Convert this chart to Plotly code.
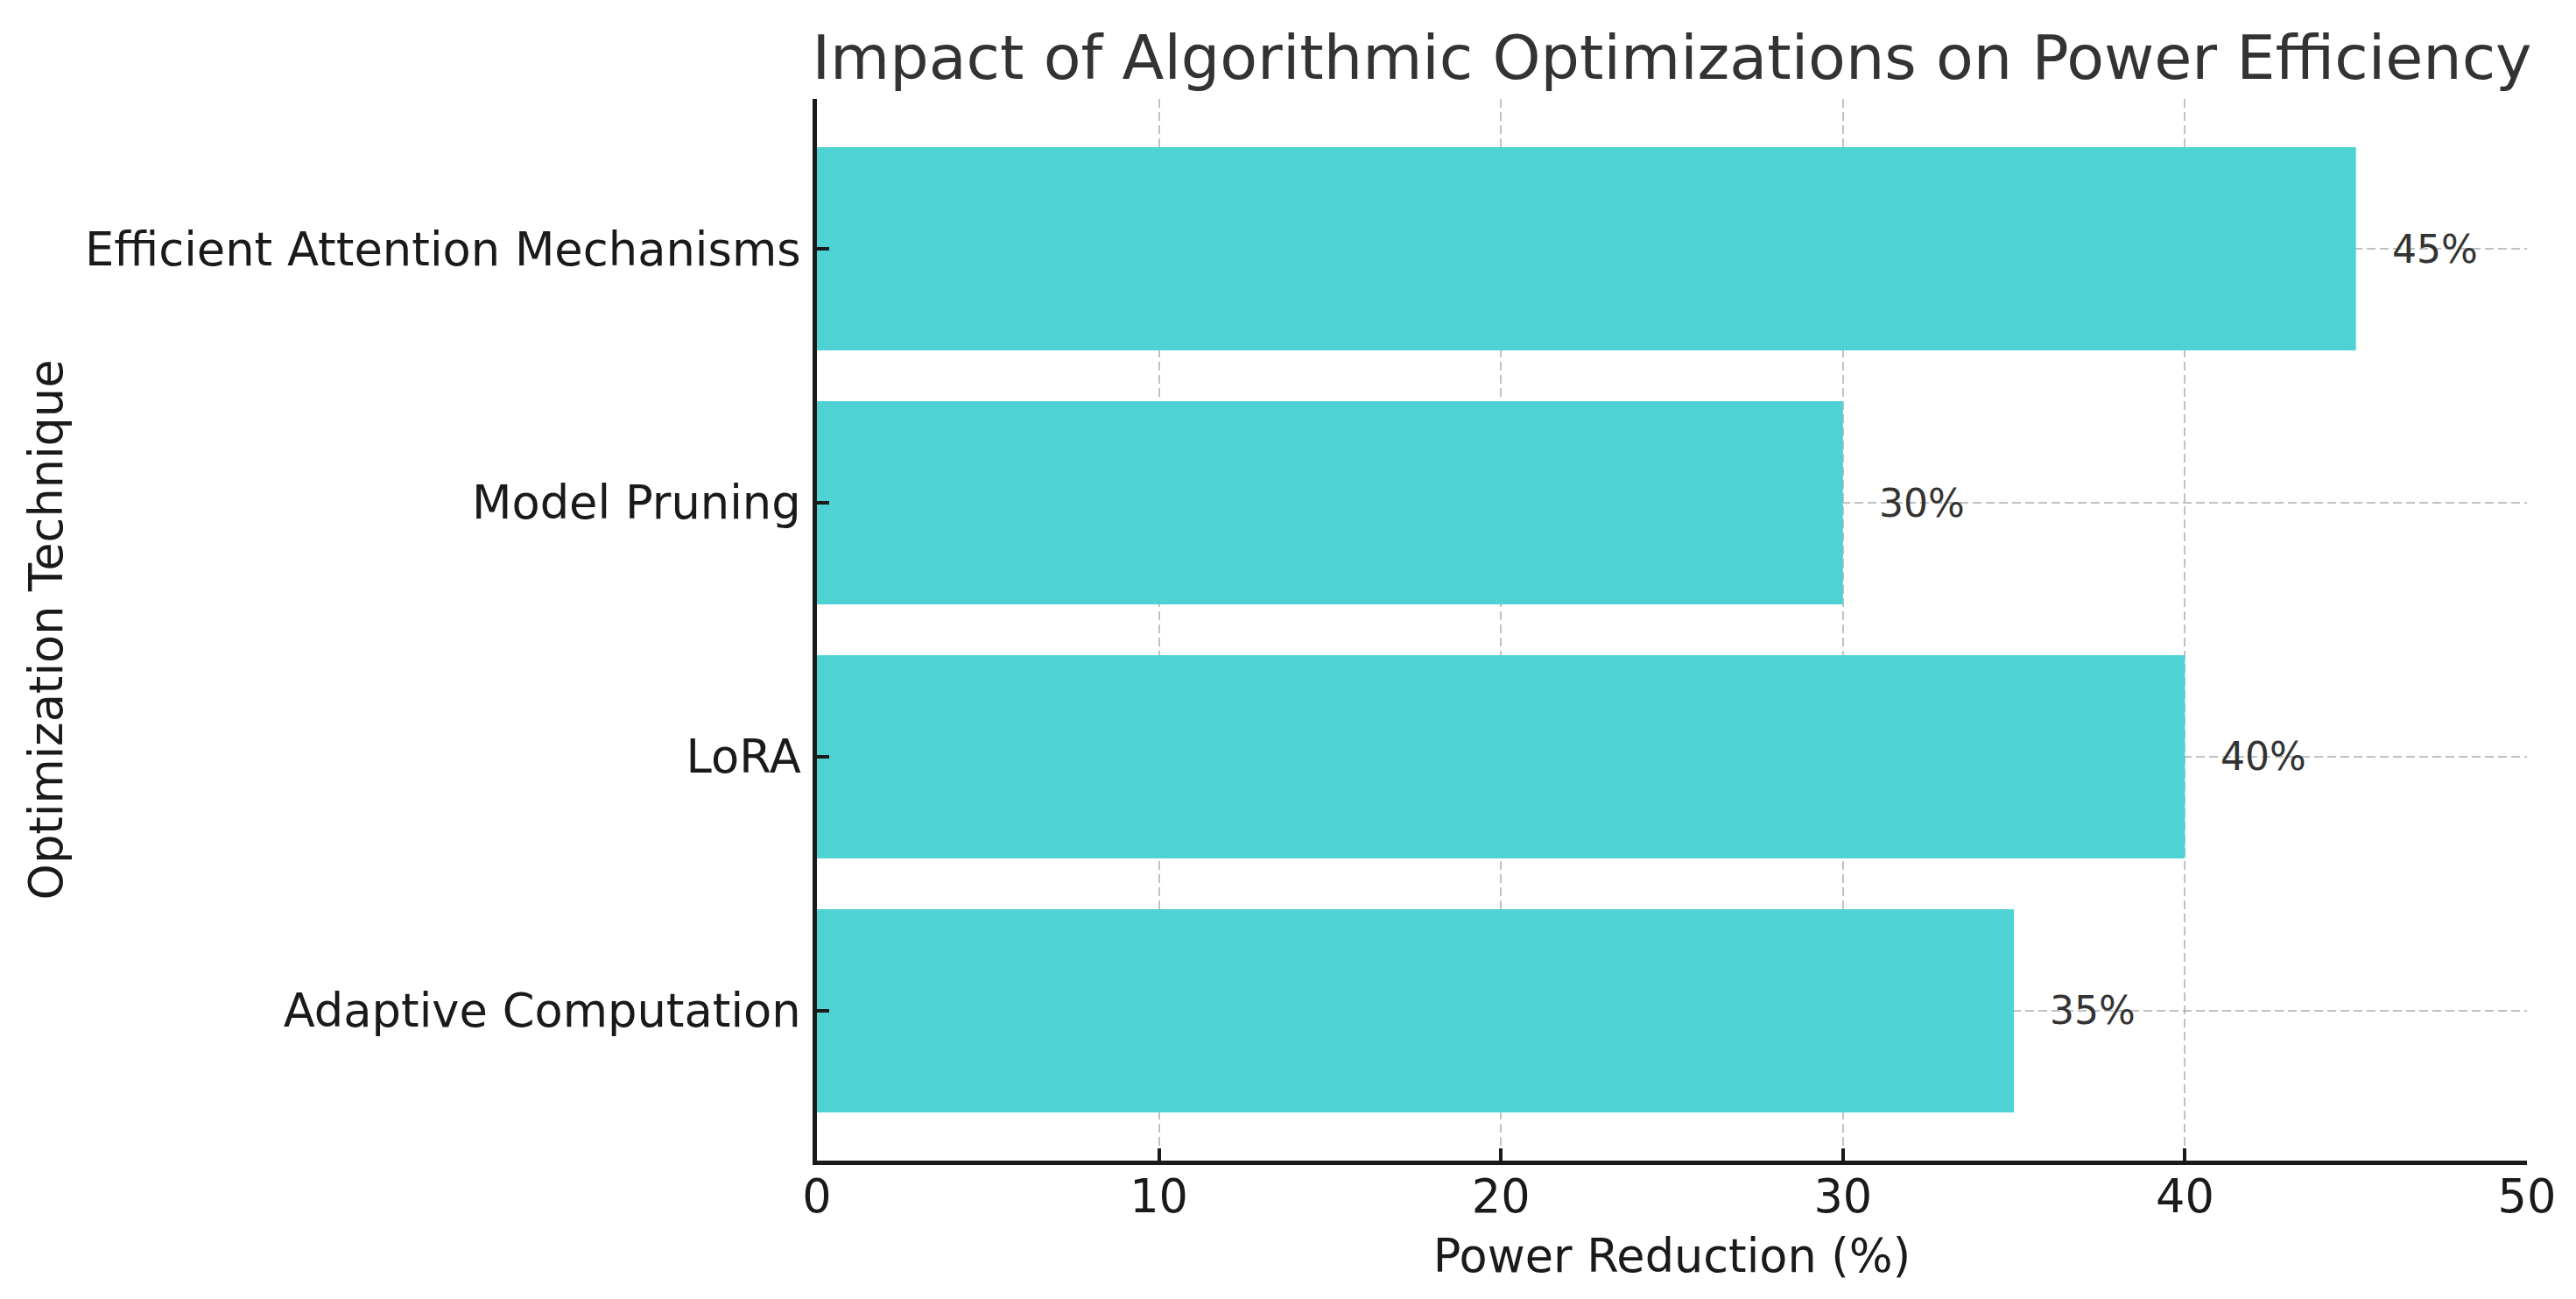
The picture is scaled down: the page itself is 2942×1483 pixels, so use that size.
import plotly.graph_objects as go

# Data (bottom to top as drawn)
techniques = ["Adaptive Computation", "LoRA", "Model Pruning", "Efficient Attention Mechanisms"]
power_reduction = [35, 40, 30, 45]
x_ticks = [0, 10, 20, 30, 40, 50]
label_offset = 1

W, H = 2942, 1483
FONT = "DejaVu Sans"
BAR_COLOR = "#4ED2D3"
GRID_COLOR = "rgba(160,160,160,0.65)"
AXIS_COLOR = "#1a1a1a"

fig = go.Figure()
fig.add_trace(go.Bar(
    x=power_reduction,
    y=techniques,
    orientation="h",
    width=0.8,
    marker=dict(color=BAR_COLOR, line=dict(width=0)),
    hoverinfo="skip",
))

for t, v in zip(techniques, power_reduction):
    fig.add_annotation(
        x=v + label_offset, y=t, xref="x", yref="y",
        text=f"{v}%", showarrow=False, xanchor="left", yanchor="middle",
        font=dict(family=FONT, size=44, color="#333333"),
    )

fig.update_layout(
    width=W, height=H,
    margin=dict(l=925, r=64, t=105, b=166, autoexpand=False),
    paper_bgcolor="white", plot_bgcolor="white",
    showlegend=False,
    bargap=0.2,
    title=dict(
        text="Impact of Algorithmic Optimizations on Power Efficiency",
        x=0.5, xref="paper", xanchor="center",
        y=(H - 57) / H, yref="container", yanchor="middle",
        font=dict(family=FONT, size=70, color="#333333"),
    ),
    font=dict(family=FONT, color="#1a1a1a"),
)

fig.update_xaxes(
    range=[0, 50],
    tickvals=x_ticks,
    ticktext=[str(v) for v in x_ticks],
    showgrid=True, gridcolor=GRID_COLOR, gridwidth=2, griddash="10px,5px",
    zeroline=False,
    showline=True, linecolor=AXIS_COLOR, linewidth=4.5,
    ticks="inside", ticklen=14, tickwidth=4, tickcolor=AXIS_COLOR,
    tickfont=dict(family=FONT, size=52.5, color="#1a1a1a"),
    ticklabelstandoff=-9,
    title=dict(text="Power Reduction (%)", font=dict(family=FONT, size=52.5, color="#1a1a1a"), standoff=22),
    layer="above traces",
    automargin=False,
)
fig.update_yaxes(
    type="category",
    categoryorder="array", categoryarray=techniques,
    range=[-0.59, 3.59],
    showgrid=True, gridcolor=GRID_COLOR, gridwidth=2, griddash="10px,5px",
    zeroline=False,
    showline=True, linecolor=AXIS_COLOR, linewidth=4.5,
    ticks="inside", ticklen=14, tickwidth=4, tickcolor=AXIS_COLOR,
    tickfont=dict(family=FONT, size=52.7, color="#1a1a1a"),
    ticklabelstandoff=3,
    title=dict(text="Optimization Technique", font=dict(family=FONT, size=52.5, color="#1a1a1a"), standoff=10),
    layer="above traces",
    automargin=False,
)

fig.write_html("out.html")
